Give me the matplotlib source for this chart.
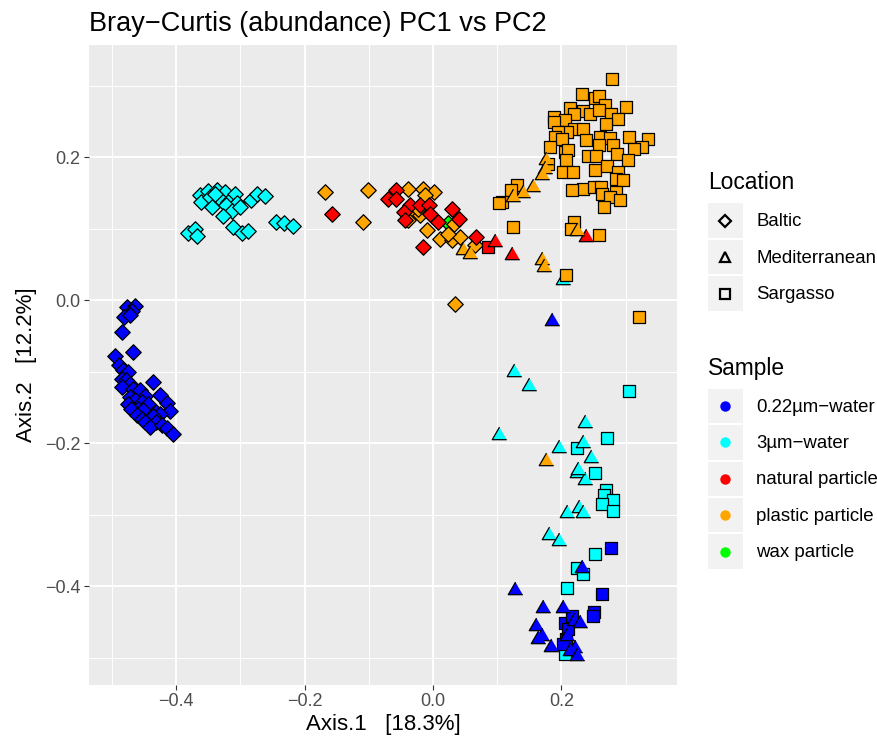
import matplotlib
matplotlib.use("Agg")
import matplotlib.pyplot as plt
import pandas as pd
from matplotlib.legend_handler import HandlerBase
from matplotlib.lines import Line2D
from matplotlib.patches import Rectangle

plt.rcParams["font.family"] = ["Liberation Sans", "DejaVu Sans"]

# ---- data (Axis.1, Axis.2) ----
# 0.22um-water, Baltic
w022_baltic_x = [-0.477, -0.464, -0.469, -0.481, -0.472, -0.484, -0.496, -0.467, -0.489, -0.483,
                 -0.475, -0.484, -0.479, -0.472, -0.484, -0.436, -0.467, -0.457, -0.449, -0.426,
                 -0.472, -0.465, -0.454, -0.475, -0.444, -0.415, -0.459, -0.470, -0.452, -0.431,
                 -0.410, -0.462, -0.426, -0.436, -0.454, -0.449, -0.431, -0.441, -0.423, -0.415, -0.405]
w022_baltic_y = [-0.009, -0.008, -0.015, -0.024, -0.021, -0.044, -0.078, -0.073, -0.091, -0.098,
                 -0.100, -0.110, -0.111, -0.117, -0.121, -0.114, -0.124, -0.126, -0.134, -0.132,
                 -0.135, -0.140, -0.142, -0.145, -0.145, -0.144, -0.152, -0.152, -0.154, -0.156,
                 -0.155, -0.161, -0.159, -0.162, -0.166, -0.170, -0.170, -0.177, -0.175, -0.178, -0.187]
# 3um-water, Baltic
w3_baltic_x = [-0.363, -0.350, -0.337, -0.324, -0.309, -0.361, -0.348, -0.332, -0.319, -0.306,
               -0.345, -0.322, -0.314, -0.301, -0.327, -0.283, -0.275, -0.262, -0.311, -0.298,
               -0.288, -0.382, -0.371, -0.368, -0.244, -0.233, -0.218, -0.340]
w3_baltic_y = [0.147, 0.153, 0.154, 0.152, 0.148, 0.138, 0.145, 0.141, 0.138, 0.136,
               0.131, 0.133, 0.125, 0.131, 0.118, 0.140, 0.149, 0.146, 0.103, 0.094,
               0.097, 0.094, 0.100, 0.090, 0.110, 0.108, 0.104, 0.149]
# natural particle, Baltic
nat_baltic_x = [-0.158, -0.070, -0.057, -0.057, -0.036, -0.020, -0.007, -0.046, -0.044, -0.005,
                0.008, 0.029, 0.041, -0.015, 0.067]
nat_baltic_y = [0.120, 0.142, 0.154, 0.142, 0.133, 0.133, 0.133, 0.124, 0.112, 0.121,
                0.110, 0.127, 0.114, 0.075, 0.089]
# plastic particle, Baltic
pla_baltic_x = [-0.168, -0.101, -0.109, -0.039, -0.015, 0.001, -0.013, -0.036, -0.020, -0.023,
                -0.039, -0.010, 0.011, 0.029, 0.042, 0.032, 0.066, 0.034, 0.024]
pla_baltic_y = [0.152, 0.154, 0.109, 0.156, 0.156, 0.152, 0.147, 0.119, 0.119, 0.128,
                0.112, 0.098, 0.086, 0.084, 0.089, 0.107, 0.078, -0.005, 0.093]
# wax particle, Baltic
wax_baltic_x = [0.024]
wax_baltic_y = [0.108]

# Mediterranean
w022_med_x = [0.185, 0.232, 0.127, 0.172, 0.202, 0.220, 0.229, 0.161, 0.169, 0.163,
              0.208, 0.184, 0.221, 0.214, 0.224]
w022_med_y = [-0.029, -0.374, -0.405, -0.430, -0.430, -0.449, -0.452, -0.456, -0.469, -0.473,
              -0.470, -0.485, -0.486, -0.490, -0.498]
w3_med_x = [0.203, 0.126, 0.150, 0.236, 0.103, 0.233, 0.197, 0.246, 0.224, 0.237,
            0.208, 0.228, 0.233, 0.180, 0.197, 0.226]
w3_med_y = [0.029, -0.100, -0.120, -0.172, -0.189, -0.200, -0.207, -0.221, -0.242, -0.251,
            -0.298, -0.291, -0.298, -0.328, -0.336, -0.238]
nat_med_x = [0.097, 0.123, 0.239]
nat_med_y = [0.082, 0.064, 0.089]
pla_med_x = [0.047, 0.058, 0.169, 0.173, 0.176, 0.175, 0.169, 0.156, 0.140, 0.125, 0.225, 0.176]
pla_med_y = [0.071, 0.065, 0.056, 0.046, 0.196, 0.184, 0.175, 0.159, 0.150, 0.145, 0.097, -0.225]

# Sargasso
w022_sarg_x = [0.277, 0.264, 0.251, 0.249, 0.205, 0.216, 0.207, 0.203, 0.211]
w022_sarg_y = [-0.347, -0.411, -0.436, -0.442, -0.452, -0.441, -0.473, -0.480, -0.460]
w3_sarg_x = [0.306, 0.271, 0.224, 0.253, 0.270, 0.266, 0.281, 0.263, 0.280, 0.253,
             0.225, 0.233, 0.209, 0.206]
w3_sarg_y = [-0.127, -0.193, -0.207, -0.241, -0.265, -0.273, -0.280, -0.285, -0.295, -0.355,
             -0.374, -0.383, -0.402, -0.494]
nat_sarg_x = [0.085]
nat_sarg_y = [0.075]
pla_sarg_x = [0.279, 0.232, 0.253, 0.259, 0.268, 0.300, 0.213, 0.233, 0.220, 0.245,
              0.259, 0.278, 0.288, 0.189, 0.206, 0.188, 0.269, 0.220, 0.234, 0.209,
              0.194, 0.190, 0.201, 0.239, 0.260, 0.275, 0.306, 0.335, 0.325, 0.313,
              0.258, 0.280, 0.286, 0.206, 0.210, 0.182, 0.241, 0.254, 0.207, 0.304,
              0.253, 0.271, 0.288, 0.202, 0.218, 0.285, 0.296, 0.234, 0.250, 0.261,
              0.216, 0.264, 0.285, 0.276, 0.291, 0.267, 0.131, 0.121, 0.107, 0.125,
              0.220, 0.215, 0.259, 0.179, 0.103, 0.207, 0.321]
pla_sarg_y = [0.309, 0.289, 0.283, 0.285, 0.273, 0.270, 0.269, 0.265, 0.260, 0.260,
              0.266, 0.260, 0.254, 0.257, 0.252, 0.249, 0.247, 0.240, 0.240, 0.235,
              0.236, 0.228, 0.225, 0.224, 0.228, 0.227, 0.228, 0.225, 0.214, 0.212,
              0.217, 0.217, 0.205, 0.208, 0.210, 0.214, 0.202, 0.202, 0.196, 0.196,
              0.182, 0.188, 0.180, 0.180, 0.179, 0.170, 0.168, 0.156, 0.158, 0.159,
              0.154, 0.148, 0.151, 0.145, 0.140, 0.130, 0.161, 0.154, 0.137, 0.103,
              0.109, 0.099, 0.091, 0.190, 0.136, 0.035, -0.024]

samples = ["0.22\u00b5m\u2212water", "3\u00b5m\u2212water", "natural particle",
           "plastic particle", "wax particle"]
sample_colors = ["#0000FF", "#00FFFF", "#FF0000", "#FFA500", "#00FF00"]
locations = ["Baltic", "Mediterranean", "Sargasso"]

groups = [
    (samples[4], "Baltic", wax_baltic_x, wax_baltic_y),
    (samples[1], "Sargasso", w3_sarg_x, w3_sarg_y),
    (samples[1], "Baltic", w3_baltic_x, w3_baltic_y),
    (samples[1], "Mediterranean", w3_med_x, w3_med_y),
    (samples[3], "Sargasso", pla_sarg_x, pla_sarg_y),
    (samples[3], "Baltic", pla_baltic_x, pla_baltic_y),
    (samples[2], "Baltic", nat_baltic_x, nat_baltic_y),
    (samples[2], "Sargasso", nat_sarg_x, nat_sarg_y),
    (samples[2], "Mediterranean", nat_med_x, nat_med_y),
    (samples[3], "Mediterranean", pla_med_x, pla_med_y),
    (samples[0], "Sargasso", w022_sarg_x, w022_sarg_y),
    (samples[0], "Baltic", w022_baltic_x, w022_baltic_y),
    (samples[0], "Mediterranean", w022_med_x, w022_med_y),
]
rows = []
for s, loc, xs, ys in groups:
    for x, y in zip(xs, ys):
        rows.append({"Sample": s, "Location": loc, "Axis.1": x, "Axis.2": y})
df = pd.DataFrame(rows)

tri = [(0, 0.577), (-0.5, -0.289), (0.5, -0.289)]
loc_marker = {"Baltic": "D", "Mediterranean": tri, "Sargasso": "s"}
loc_size = {"Baltic": 62, "Mediterranean": 145, "Sargasso": 68}
color_of = dict(zip(samples, sample_colors))

fig = plt.figure(figsize=(8.78, 7.39), dpi=100)
ax = fig.add_axes([0.1014, 0.0731, 0.6696, 0.8660])
ax.set_facecolor("#EBEBEB")

for s, loc, _, _ in groups:
    d = df[(df["Sample"] == s) & (df["Location"] == loc)]
    ax.scatter(d["Axis.1"], d["Axis.2"], marker=loc_marker[loc], s=loc_size[loc],
               c=color_of[s], edgecolors="black", linewidths=0.9, zorder=3)

ax.set_xlim(-0.536, 0.380)
ax.set_ylim(-0.538, 0.357)
ax.set_xticks([-0.4, -0.2, 0.0, 0.2])
ax.set_yticks([-0.4, -0.2, 0.0, 0.2])
ax.set_xticks([-0.5, -0.3, -0.1, 0.1, 0.3], minor=True)
ax.set_yticks([-0.5, -0.3, -0.1, 0.1, 0.3], minor=True)
ax.xaxis.set_major_formatter(lambda v, p: f"{v:.1f}".replace("-", "\u2212"))
ax.yaxis.set_major_formatter(lambda v, p: f"{v:.1f}".replace("-", "\u2212"))
ax.grid(which="major", color="white", linewidth=1.4)
ax.grid(which="minor", color="white", linewidth=0.7)
ax.set_axisbelow(True)
for sp in ax.spines.values():
    sp.set_visible(False)
ax.tick_params(which="major", length=3.5, width=0.8, color="#333333",
               labelsize=13, labelcolor="#4D4D4D", pad=2.5)
ax.tick_params(which="minor", length=0)

ax.set_xlabel("Axis.1   [18.3%]", fontsize=16, labelpad=3)
ax.set_ylabel("Axis.2   [12.2%]", fontsize=16, labelpad=6)
ax.set_title("Bray\u2212Curtis (abundance) PC1 vs PC2", loc="left", fontsize=19.5, pad=10)


class KeyBox(HandlerBase):
    def create_artists(self, legend, orig, xd, yd, w, h, fontsize, trans):
        box = Rectangle((-xd, -yd), w, h, facecolor="#F2F2F2", edgecolor="none", transform=trans)
        m = Line2D([-xd + w / 2], [-yd + h / 2], linestyle="none", marker=orig.get_marker(),
                   markersize=orig.get_markersize(), markerfacecolor=orig.get_markerfacecolor(),
                   markeredgecolor=orig.get_markeredgecolor(),
                   markeredgewidth=orig.get_markeredgewidth(), transform=trans)
        return [box, m]


leg_markers = {"Baltic": "D", "Mediterranean": "^", "Sargasso": "s"}
leg_msize = {"Baltic": 6, "Mediterranean": 7.5, "Sargasso": 6.5}
loc_handles = [Line2D([], [], linestyle="none", marker=leg_markers[l], markersize=leg_msize[l],
                      markerfacecolor="none", markeredgecolor="black", markeredgewidth=1.6)
               for l in locations]
samp_handles = [Line2D([], [], linestyle="none", marker="o", markersize=7.5,
                       markerfacecolor=c, markeredgecolor="none") for c in sample_colors]

common = dict(frameon=False, handler_map={Line2D: KeyBox()}, handlelength=1.9, handleheight=2.48,
              labelspacing=0.1, handletextpad=0.7, borderpad=0, borderaxespad=0,
              fontsize=13.4, title_fontsize=16.4, alignment="left", loc="upper left")
leg1 = fig.legend(loc_handles, locations, title="Location",
                  bbox_to_anchor=(0.806, 0.768), **common)
leg2 = fig.legend(samp_handles, samples, title="Sample",
                  bbox_to_anchor=(0.806, 0.5174), **common)
for leg in (leg1, leg2):
    leg._legend_box.sep = 6.5

fig.savefig("out.png", dpi=100)
plt.close(fig)
